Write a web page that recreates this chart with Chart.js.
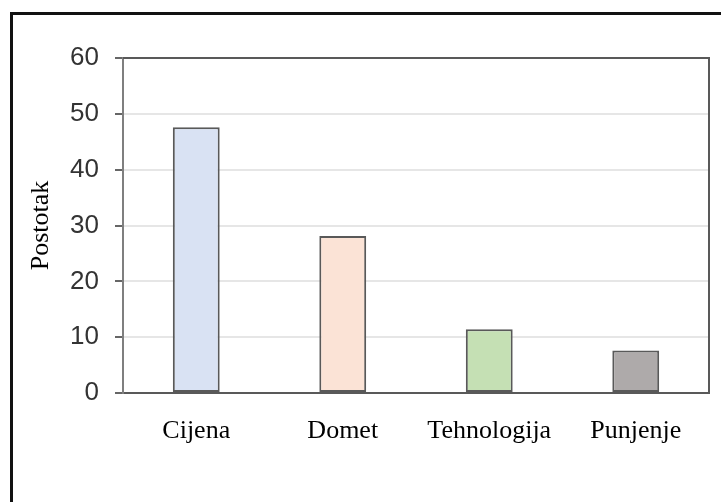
<!DOCTYPE html>
<html>
<head>
<meta charset="utf-8">
<script src="https://cdn.jsdelivr.net/npm/chart.js@4"></script>
<style>
	html, body { margin: 0; padding: 0; background: #fff; }
	#wrap { width: 721px; height: 502px; position: relative; }
</style>
</head>
<body>
<div id="wrap"><canvas id="myChart" width="721" height="502"></canvas></div>
<script>
var categories = ["Cijena", "Domet", "Tehnologija", "Punjenje"];
var values = [47.6, 28.1, 11.4, 7.6];
var barColors = ["#d9e2f3", "#fbe3d6", "#c5e0b4", "#aeaaaa"];
var yTicks = [0, 10, 20, 30, 40, 50, 60];

// frame round the figure (left and top only) and top/right edge of the plot
var framePlugin = {
	id: "frame",
	afterDraw: function (chart) {
		var c = chart.ctx;
		var a = chart.chartArea;
		c.save();
		c.strokeStyle = "#595959";
		c.lineWidth = 2;
		c.beginPath();
		c.moveTo(a.left, a.top);
		c.lineTo(a.right, a.top);
		c.lineTo(a.right, a.bottom);
		c.stroke();
		c.strokeStyle = "#111";
		c.lineWidth = 3;
		c.beginPath();
		c.moveTo(11.5, 502);
		c.lineTo(11.5, 13.5);
		c.lineTo(721, 13.5);
		c.stroke();
		c.restore();
	},
	beforeDraw: function (chart) {
		var c = chart.ctx;
		c.save();
		c.fillStyle = "#fff";
		c.fillRect(0, 0, chart.width, chart.height);
		c.restore();
	},
};

document.addEventListener("DOMContentLoaded", function () {
	var ctx = document.getElementById("myChart").getContext("2d");
	var myChart = new Chart(ctx, {
		type: "bar",
		data: {
			labels: categories,
			datasets: [
				{
					label: "Postotak",
					data: values,
					backgroundColor: barColors,
					borderColor: "#595959",
					borderWidth: 2,
					borderSkipped: false,
					barPercentage: 0.32,
					categoryPercentage: 1,
				},
			],
		},
		options: {
			responsive: false,
			animation: false,
			layout: {
				padding: { top: 58, right: 12, left: 0, bottom: 0 },
			},
			plugins: {
				legend: { display: false },
				tooltip: { enabled: false },
			},
			scales: {
				x: {
					grid: { display: false, drawTicks: false },
					border: { color: "#595959", width: 2 },
					ticks: {
						color: "#000",
						padding: 23,
						maxRotation: 0,
						font: { family: "'Liberation Serif', 'Times New Roman', serif", size: 26 },
					},
					afterFit: function (scale) {
						scale.height = 109;
					},
				},
				y: {
					min: 0,
					max: 60,
					afterBuildTicks: function (scale) {
						scale.ticks = yTicks.map(function (v) { return { value: v }; });
					},
					grid: {
						color: function (c) {
							return c.tick && c.tick.value === 60 ? "#595959" : "#e6e6e6";
						},
						lineWidth: 2,
						tickColor: "#666",
						tickLength: 8,
					},
					border: { color: "#7f7f7f", width: 2 },
					ticks: {
						color: "#333",
						padding: 16,
						font: { family: "'Liberation Sans', Arial, sans-serif", size: 26 },
					},
					title: {
						display: true,
						text: "Postotak",
						color: "#000",
						padding: { top: 26, bottom: 0 },
						font: { family: "'Liberation Serif', 'Times New Roman', serif", size: 26 },
					},
					afterFit: function (scale) {
						scale.width = 123;
					},
				},
			},
		},
		plugins: [framePlugin],
	});
});
</script>
</body>
</html>
